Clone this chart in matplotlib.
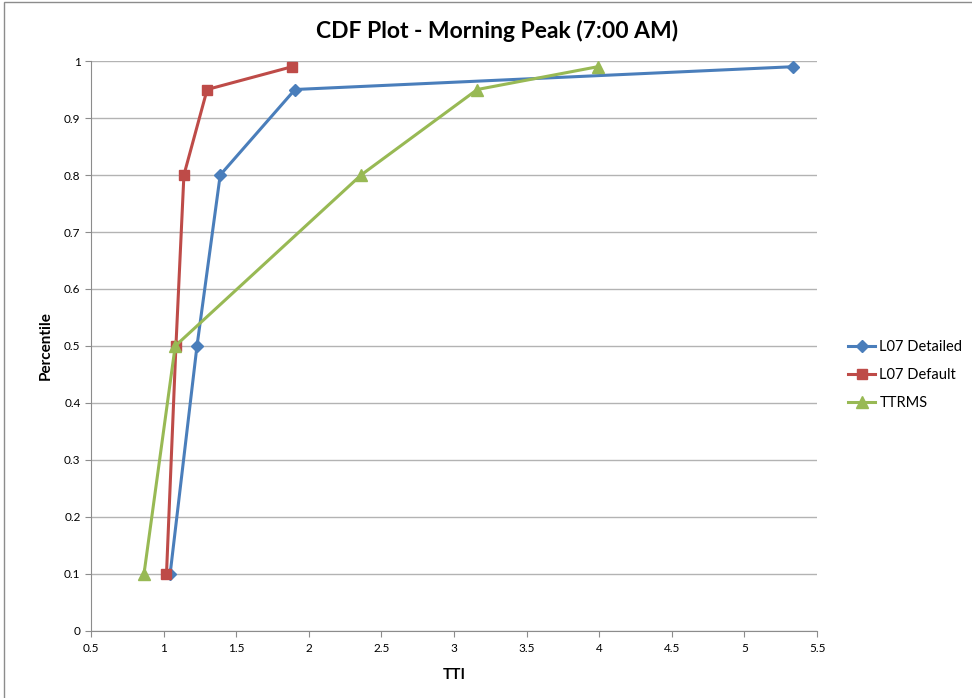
import matplotlib
matplotlib.use("Agg")
import matplotlib.pyplot as plt
from matplotlib.patches import Rectangle

plt.rcParams['font.family'] = ['Lato', 'DejaVu Sans']

l07_detailed_x = [1.045, 1.23, 1.39, 1.905, 5.335]
l07_detailed_y = [0.1, 0.5, 0.8, 0.95, 0.99]
l07_default_x = [1.02, 1.085, 1.14, 1.30, 1.885]
l07_default_y = [0.1, 0.5, 0.8, 0.95, 0.99]
ttrms_x = [0.865, 1.08, 2.36, 3.16, 3.99]
ttrms_y = [0.1, 0.5, 0.8, 0.95, 0.99]

fig = plt.figure(figsize=(9.72, 6.98), dpi=100)
fig.patches.append(Rectangle((0.004, -0.01), 1.1, 1.007, transform=fig.transFigure,
                             fill=False, edgecolor='#8c8c8c', linewidth=1.0))
ax = fig.add_axes([0.0936, 0.096, 0.747, 0.8166])

ax.plot(l07_detailed_x, l07_detailed_y, color='#4a7ebb', marker='D', markersize=6,
        linewidth=2.2, label='L07 Detailed', zorder=3)
ax.plot(l07_default_x, l07_default_y, color='#be4b48', marker='s', markersize=7,
        linewidth=2.2, label='L07 Default', zorder=3)
ax.plot(ttrms_x, ttrms_y, color='#98b954', marker='^', markersize=8,
        linewidth=2.2, label='TTRMS', zorder=3)

ax.set_xlim(0.5, 5.5)
ax.set_ylim(0, 1)
ax.set_xticks([0.5, 1, 1.5, 2, 2.5, 3, 3.5, 4, 4.5, 5, 5.5])
ax.set_xticklabels(['0.5', '1', '1.5', '2', '2.5', '3', '3.5', '4', '4.5', '5', '5.5'])
ax.set_yticks([0, 0.1, 0.2, 0.3, 0.4, 0.5, 0.6, 0.7, 0.8, 0.9, 1])
ax.set_yticklabels(['0', '0.1', '0.2', '0.3', '0.4', '0.5', '0.6', '0.7', '0.8', '0.9', '1'])
ax.grid(axis='y', color='#b3b3b3', linewidth=1.0)
ax.set_axisbelow(True)
for s in ['top', 'right']:
    ax.spines[s].set_visible(False)
for s in ['left', 'bottom']:
    ax.spines[s].set_color('#8c8c8c')
ax.tick_params(axis='both', direction='out', length=4, color='#8c8c8c', labelsize=8.5)
ax.tick_params(axis='x', pad=5)

ax.set_xlabel('TTI', fontsize=11, fontweight='bold', labelpad=10)
ax.set_ylabel('Percentile', fontsize=11, fontweight='bold', labelpad=8)
fig.text(0.511, 0.955, 'CDF Plot - Morning Peak (7:00 AM)', fontsize=16.5,
         fontweight='bold', ha='center', va='center')

ax.legend(loc='center left', bbox_to_anchor=(1.0427, 0.449), frameon=False, fontsize=10.5,
          handlelength=1.85, handletextpad=0.3, labelspacing=0.95,
          borderpad=0, borderaxespad=0)

fig.savefig('out.png', dpi=100)
